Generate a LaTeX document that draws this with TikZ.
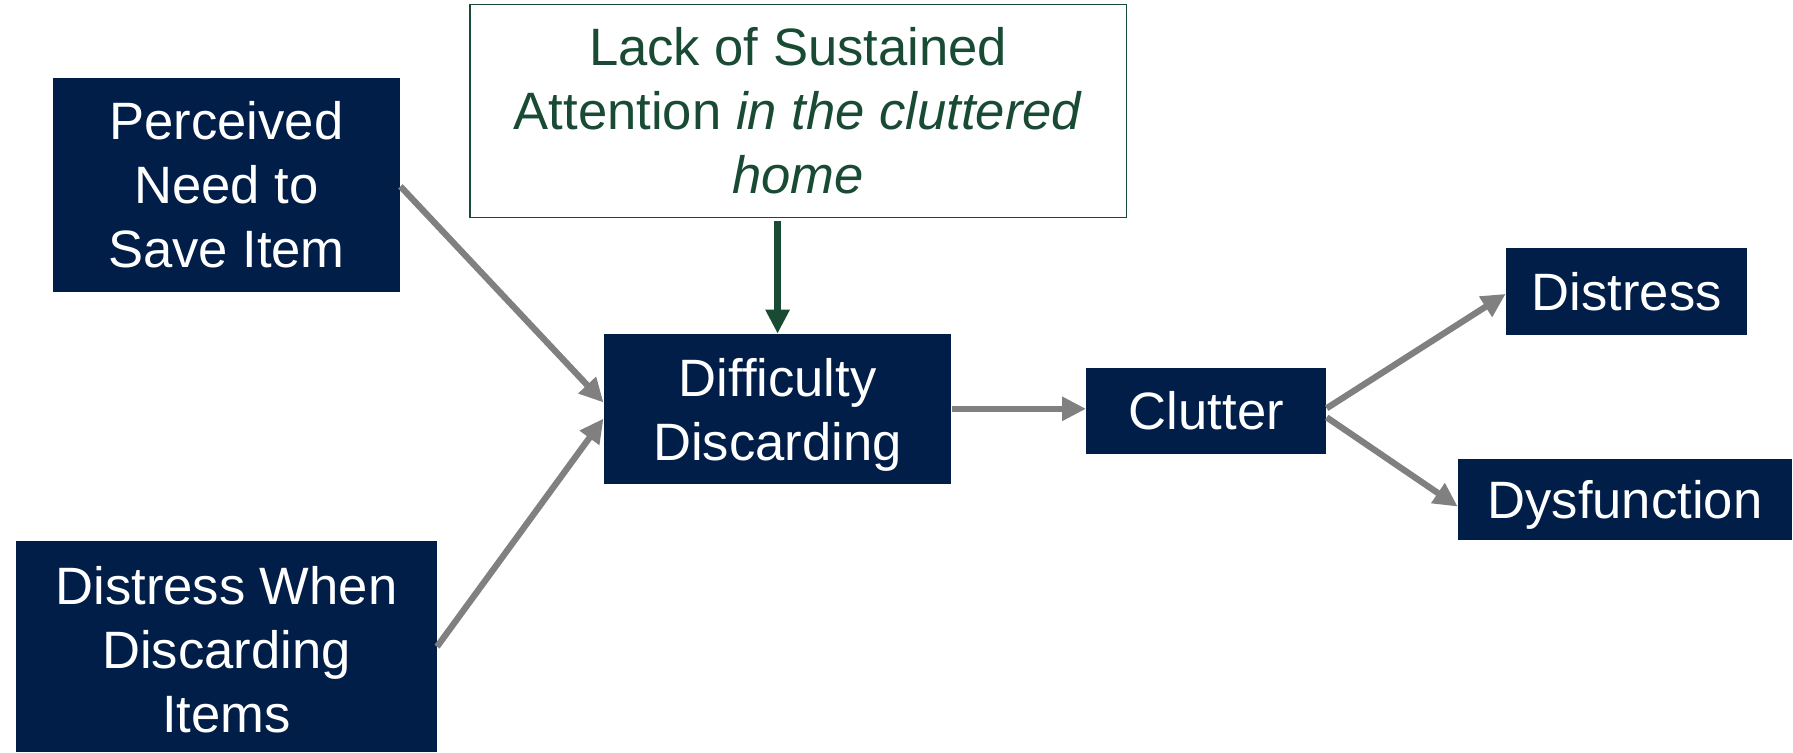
\documentclass[tikz,border=0pt]{standalone}
\usepackage{fontspec}
\setmainfont{Liberation Sans}
\usetikzlibrary{arrows.meta}
\definecolor{navy}{RGB}{0,30,72}
\definecolor{forest}{RGB}{24,74,52}
\definecolor{arrowgray}{RGB}{128,128,128}
\begin{document}
\begin{tikzpicture}[x=1pt,y=-1pt,
  every node/.style={inner sep=0pt,align=center,font=\fontsize{46}{56}\selectfont},
  navybox/.style={fill=navy,text=white},
  boxlabel/.style={text=white},
  notebox/.style={draw=forest,line width=1.2pt,fill=white,text=forest},
  link/.style={draw=arrowgray,line width=5.5pt,-{Triangle[length=21pt,width=20pt]}},
  greenlink/.style={draw=forest,line width=5.5pt,-{Triangle[length=21pt,width=20pt]}}]
  \useasboundingbox (0,0) rectangle (1568,658);

  % causes
  \node[navybox,minimum width=304pt,minimum height=187pt] (perc) at (198,161.5) {Perceived\\Need to\\Save Item};
  \node[navybox,minimum width=368pt,minimum height=185pt] (dwd) at (198,565.5) {};
  \node[boxlabel] (dwdtext) at (198,568.5) {Distress When\\Discarding\\Items};
  \node[notebox,minimum width=574pt,minimum height=186pt] (lack) at (698,97) {Lack of Sustained\\Attention \textit{in the cluttered}\\\textit{home}};

  % central chain
  \node[navybox,minimum width=304pt,minimum height=131pt] (diff) at (680,357.5) {};
  \node[boxlabel] (difftext) at (680,362.5) {Difficulty\\Discarding};
  \node[navybox,minimum width=210pt,minimum height=75pt] (clut) at (1055,359.5) {Clutter};

  % outcomes
  \node[navybox,minimum width=211pt,minimum height=76pt] (dist) at (1422.5,255) {Distress};
  \node[navybox,minimum width=292pt,minimum height=71pt] (dysf) at (1421,436.5) {};
  \node[boxlabel] (dysftext) at (1421,441.5) {Dysfunction};

  \draw[link] ([yshift=-1.5pt]perc.east) -- ([yshift=5.5pt]diff.west);
  \draw[link] (dwd.east) -- ([yshift=-8.5pt]diff.west);
  \draw[greenlink] ([yshift=-3pt]lack.south -| diff.north) -- (diff.north);
  \draw[link] (diff.east) -- (diff.east -| clut.west);
  \draw[link] ([yshift=2.5pt]clut.east) -- ([yshift=-2pt]dist.west);
  \draw[link] ([yshift=-5.5pt]clut.east) -- ([yshift=-6.5pt]dysf.west);
\end{tikzpicture}
\end{document}
